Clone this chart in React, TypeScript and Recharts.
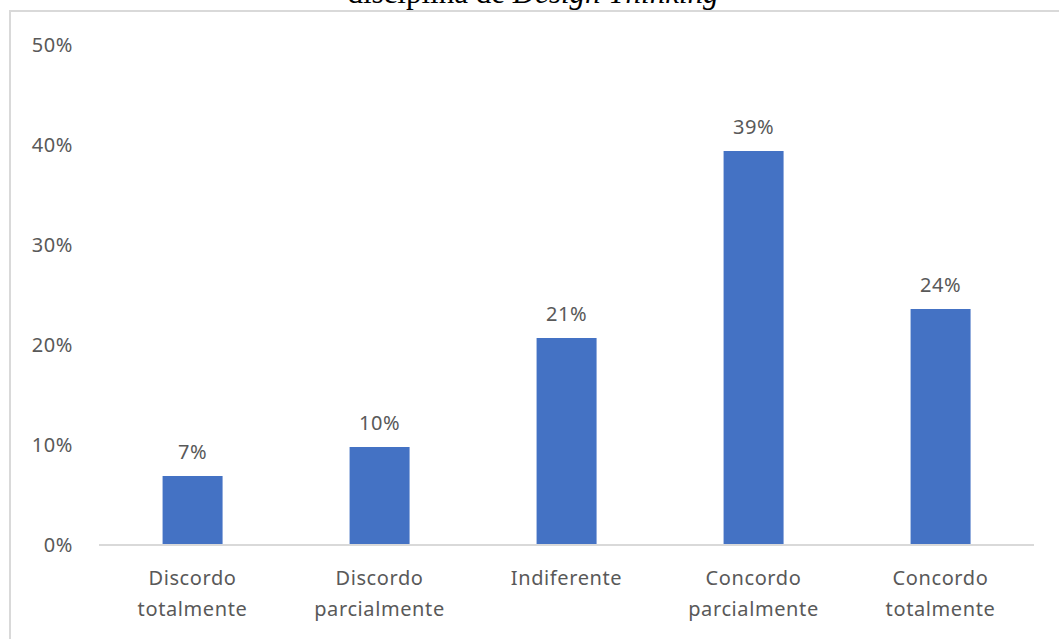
import { BarChart, Bar, XAxis, YAxis, LabelList } from "recharts";

const categories = [
  ["Discordo", "totalmente"],
  ["Discordo", "parcialmente"],
  ["Indiferente"],
  ["Concordo", "parcialmente"],
  ["Concordo", "totalmente"],
];
const shares = [6.9, 9.8, 20.7, 39.4, 23.6];
const yTicks = [0, 10, 20, 30, 40, 50];

const data = categories.map((lines, i) => ({
  name: lines.join(" "),
  lines,
  value: shares[i],
}));

const FONT = "'Noto Sans', sans-serif";
const GREY = "#595959";

function CategoryTick({ x, y, payload, index }: any) {
  const lines = categories[index] ?? [payload.value];
  return (
    <text
      x={x}
      y={y}
      textAnchor="middle"
      fill={GREY}
      fontSize={20}
      fontFamily={FONT}
      letterSpacing={0.6}
    >
      {lines.map((l: string, i: number) => (
        <tspan key={i} x={x} dy={i === 0 ? 32 : 31}>
          {l}
        </tspan>
      ))}
    </text>
  );
}

export default function App() {
  return (
    <div
      style={{
        position: "absolute",
        left: 0,
        top: 0,
        width: 1059,
        height: 639,
        overflow: "hidden",
        background: "#fff",
      }}
    >
      <div
        style={{
          position: "absolute",
          left: 7,
          right: 0,
          top: -25,
          textAlign: "center",
          fontFamily: "'Liberation Serif', serif",
          fontSize: 31,
          color: "#000",
          lineHeight: "36px",
          whiteSpace: "nowrap",
        }}
      >
        disciplina de <i>Design Thinking</i>
      </div>
      <div
        style={{
          position: "absolute",
          left: 9,
          top: 10,
          width: 1080,
          height: 660,
          border: "2px solid #d9d9d9",
        }}
      />
      <div style={{ position: "absolute", left: 0, top: 0 }}>
        <BarChart
          width={1059}
          height={639}
          data={data}
          margin={{ top: 45, right: 25, bottom: 0, left: 0 }}
          barCategoryGap="34%"
        >
          <XAxis
            dataKey="name"
            height={94}
            interval={0}
            tick={<CategoryTick />}
            tickLine={false}
            axisLine={{ stroke: "#d9d9d9", strokeWidth: 2 }}
          />
          <YAxis
            width={99}
            domain={[0, 50]}
            ticks={yTicks}
            tickFormatter={(v: number) => `${v}%`}
            tick={{ fill: GREY, fontSize: 20, fontFamily: FONT, letterSpacing: 0.6 }}
            tickLine={false}
            tickSize={0}
            tickMargin={26}
            axisLine={false}
          />
          <Bar dataKey="value" fill="#4472C4" isAnimationActive={false}>
            <LabelList
              dataKey="value"
              position="top"
              offset={17}
              formatter={(v: any) => `${Math.round(Number(v))}%`}
              fill={GREY}
              fontSize={20}
              fontFamily={FONT}
              letterSpacing={0.6}
            />
          </Bar>
        </BarChart>
      </div>
    </div>
  );
}
